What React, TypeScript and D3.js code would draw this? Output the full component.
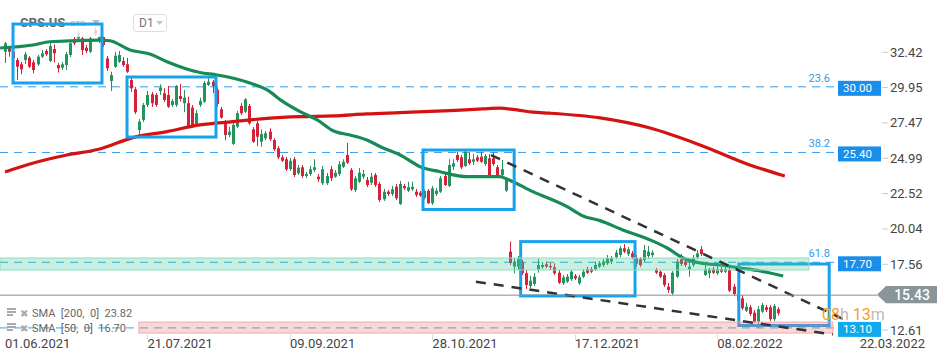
import React from 'react';
import * as d3 from 'd3';

// ---------- DATA ----------
// daily candles [open, high, low, close], first bar = 01.06.2021
const ohlc: [number, number, number, number][] = [
  [32.46,33.14,31.67,33.05],[32.74,32.86,32.11,32.46],[32.44,32.55,31.90,32.02],[31.88,32.02,30.48,31.41],
  [31.58,31.74,30.88,31.23],[31.88,32.44,31.60,32.28],[32.04,32.16,31.32,31.41],[31.72,31.88,30.95,31.18],
  [31.58,32.23,31.46,32.11],[32.11,32.58,32.02,32.35],[32.51,32.65,32.16,32.28],[31.81,33.05,31.74,32.86],
  [32.65,32.98,31.72,32.35],[31.53,31.67,31.00,31.30],[31.34,31.74,31.18,31.58],[31.53,32.44,31.18,32.28],
  [32.23,33.21,32.09,33.05],[33.28,33.49,32.93,33.05],[33.40,33.98,33.28,33.75],[33.40,33.56,32.23,32.58],
  [32.74,32.93,32.37,32.51],[32.46,33.56,32.37,33.40],[33.98,34.21,33.56,33.68],[33.28,33.70,33.07,33.51],
  [33.49,33.60,32.80,32.93],[31.99,32.16,31.11,31.30],[30.41,31.06,29.71,30.83],[31.41,32.46,31.32,32.18],
  [31.76,32.51,31.67,32.23],[31.81,32.09,31.39,31.53],[31.58,32.02,30.97,31.06],[30.48,30.71,29.64,29.90],
  [29.83,29.99,28.10,28.22],[26.97,27.74,26.62,27.56],[27.68,28.87,27.54,28.73],[28.73,29.71,28.59,29.43],
  [29.48,29.64,28.59,28.85],[29.43,29.57,28.59,28.73],[29.71,30.18,29.43,29.94],[29.55,29.90,28.94,29.08],
  [29.43,30.06,28.52,28.61],[28.73,29.15,28.59,29.01],[28.73,30.13,28.59,30.06],[29.36,30.20,28.96,29.15],
  [28.85,29.78,28.22,29.24],[28.85,29.31,27.11,27.21],[28.54,28.73,27.18,27.33],[27.33,28.38,27.18,28.15],
  [28.73,29.24,28.59,29.01],[28.96,30.41,28.87,30.27],[30.13,30.62,30.06,30.36],[30.36,30.48,29.55,30.06],
  [29.80,29.95,28.60,28.80],[28.43,28.59,27.76,27.84],[27.44,27.68,26.27,26.62],[26.62,27.21,26.48,26.86],
  [26.00,27.46,25.92,27.33],[27.21,28.31,27.11,28.15],[28.66,28.85,28.03,28.15],[28.26,29.20,28.17,29.13],
  [28.66,28.80,27.33,27.44],[27.02,27.18,26.06,26.15],[27.44,27.60,25.85,26.50],[26.15,27.02,25.80,26.69],
  [26.39,26.90,26.27,26.74],[26.86,27.09,26.20,26.32],[26.27,26.41,25.50,25.62],[25.69,25.85,24.94,25.06],
  [25.06,25.22,24.73,24.82],[24.92,25.08,24.10,24.22],[24.24,25.01,24.10,24.82],[24.92,25.08,23.68,23.82],
  [23.94,24.52,23.82,24.33],[24.36,24.52,23.61,23.75],[23.75,24.03,23.61,23.89],[23.89,24.45,23.75,24.22],
  [24.17,24.92,24.03,24.36],[23.70,23.89,23.33,23.52],[23.24,24.45,23.12,24.22],[23.24,23.96,23.12,23.75],
  [24.22,24.45,23.40,23.59],[23.70,24.17,23.61,23.98],[23.89,24.80,23.75,24.57],[24.40,24.92,24.31,24.75],
  [25.22,26.08,24.59,24.68],[24.17,24.31,22.70,22.82],[22.77,23.75,22.63,23.59],[23.35,24.31,23.26,23.98],
  [23.70,24.17,23.54,23.89],[23.47,23.68,22.98,23.12],[23.28,23.96,23.12,23.70],[23.82,23.96,22.98,23.12],
  [23.19,23.33,21.93,22.07],[22.12,22.84,22.00,22.65],[22.65,22.77,22.35,22.49],[22.49,23.05,22.35,22.82],
  [23.00,23.19,22.07,22.19],[21.79,23.40,21.72,23.19],[23.05,23.19,22.77,22.89],[22.72,23.35,22.63,22.96],
  [22.82,23.35,22.70,23.00],[22.65,22.84,22.28,22.42],[22.58,22.70,22.28,22.37],[22.20,22.80,22.10,22.70],
  [22.72,22.84,21.79,21.84],[21.84,23.05,21.72,22.89],[22.49,22.91,22.35,22.72],[22.65,23.75,22.56,23.59],
  [23.75,23.89,23.05,23.12],[23.05,24.92,22.98,24.52],[24.40,24.92,24.17,24.64],[25.22,25.45,24.73,24.87],
  [25.06,25.22,24.24,24.36],[24.45,25.57,24.38,25.45],[24.92,25.38,24.52,24.64],[24.75,25.29,24.52,24.92],
  [25.06,25.22,24.73,24.82],[25.10,25.45,24.66,24.75],[24.59,25.29,24.45,25.15],[24.99,25.29,23.68,23.82],
  [24.99,25.38,24.45,24.59],[24.36,24.52,23.68,23.82],[23.82,24.87,23.70,24.22],[22.72,23.68,22.63,23.52],
  [18.45,19.15,17.51,17.65],[17.40,18.00,16.93,17.75],[17.40,18.14,17.16,17.91],[17.72,17.86,16.81,16.95],
  [16.93,17.16,15.83,16.11],[16.04,16.74,15.90,16.41],[16.18,16.95,16.04,16.69],[17.21,17.93,16.97,17.51],
  [17.37,17.72,17.23,17.51],[17.56,17.75,17.30,17.40],[17.44,17.65,17.16,17.35],[17.35,17.63,16.81,16.93],
  [16.97,17.16,16.18,16.27],[16.23,16.81,16.11,16.65],[16.34,16.88,16.25,16.69],[16.51,17.16,16.39,17.04],
  [16.74,16.88,16.46,16.58],[16.23,16.81,16.11,16.65],[16.69,17.23,16.60,17.04],[17.21,17.37,16.88,16.97],
  [17.21,17.37,16.95,17.04],[17.21,17.75,17.09,17.51],[17.40,17.79,17.30,17.63],[17.51,17.93,17.37,17.75],
  [17.63,18.22,17.51,17.98],[17.75,18.14,17.58,17.98],[18.05,18.56,17.93,18.38],[18.21,18.85,18.07,18.68],
  [18.68,18.98,18.35,18.45],[18.28,18.78,18.14,18.61],[18.33,18.49,17.93,18.05],[18.00,18.20,17.40,17.60],
  [17.91,18.07,17.37,17.51],[17.86,18.92,17.72,18.56],[18.14,18.85,17.95,18.45],[18.20,18.55,18.05,18.38],
  [17.16,17.30,16.88,16.97],[17.04,17.16,16.60,16.69],[16.81,16.95,15.97,16.11],[15.99,16.25,15.55,15.76],
  [15.53,17.09,15.41,16.97],[16.69,17.93,16.60,17.75],[17.91,18.28,17.44,17.58],[17.75,17.93,17.37,17.51],
  [17.21,17.72,16.69,17.40],[17.51,18.21,17.37,17.98],[18.05,18.56,17.93,18.33],[18.61,18.85,18.14,18.28],
  [16.81,17.58,16.74,17.21],[16.93,17.30,16.58,17.21],[17.21,17.37,16.88,16.97],[16.93,17.44,16.81,17.21],
  [17.21,17.37,16.95,17.04],[17.04,17.58,16.95,17.21],[17.16,17.30,15.62,15.71],[15.99,16.18,15.34,15.48],
  [15.01,15.55,14.92,15.48],[15.18,15.41,14.36,14.48],[14.31,14.85,14.22,14.59],[14.55,14.71,13.94,14.08],
  [14.17,14.36,13.45,13.54],[13.54,14.64,13.08,14.41],[14.24,14.85,14.15,14.71],[14.55,14.71,14.22,14.36],
  [14.55,14.71,13.59,13.71],[13.71,14.78,13.59,14.64],[14.41,14.55,13.97,14.13],
];

// SMA 50 [bar index, value]
const sma50: [number, number][] = [
  [-1.2,32.72],[6.9,32.93],[11,33.16],[23.3,33.28],[25.8,33.23],[30.7,32.58],[35.6,32.30],[39.8,31.76],
  [47.9,31.0],[52.1,30.83],[60.2,30.27],[64.4,29.78],[68.3,28.96],[72.5,28.26],[76.7,27.68],[80.6,26.92],
  [84.8,26.62],[88.9,26.27],[92.9,25.71],[97.1,25.22],[102,24.40],[106.9,24.05],[113.5,23.70],[121.6,23.70],
  [123.3,23.54],[129.7,22.65],[138.1,21.60],[142,20.95],[146.2,20.62],[151.8,19.97],[158.5,19.27],
  [162.7,18.70],[166.6,18.00],[170.8,17.65],[175.7,17.51],[180.6,17.30],[185.5,17.09],[191.2,16.74],
];
// SMA 200 [bar index, value]
const sma200: [number, number][] = [
  [0,24.03],[6.1,24.59],[15.2,25.22],[23.3,25.64],[31.4,26.44],[39.8,26.86],[47.9,27.33],[56,27.56],
  [64.4,27.79],[72.5,27.91],[80.6,27.96],[88.9,28.10],[97.1,28.19],[109.3,28.33],[117.4,28.45],
  [121.6,28.50],[125.8,28.38],[129.7,28.22],[133.9,28.15],[146.2,27.82],[158.5,27.11],[170.8,25.92],
  [183,24.52],[191.6,23.75],
];

const priceTicks = [32.42, 29.95, 27.47, 24.99, 22.52, 20.04, 17.56, 12.61];
const dateTicks: [number, string][] = [
  [0, '01.06.2021'], [35, '21.07.2021'], [70, '09.09.2021'], [105, '28.10.2021'],
  [140, '17.12.2021'], [175, '08.02.2022'], [210, '22.03.2022'],
];
const fibLevels = [
  { label: '23.6', value: 30.0, badge: '30.00' },
  { label: '38.2', value: 25.4, badge: '25.40' },
  { label: '61.8', value: 17.7, badge: '17.70' },
  { label: '', value: 13.1, badge: '13.10' },
];
// zones [fromIndex, toIndex, top, bottom]
const greenZone: [number, number, number, number] = [-1.3, 197.5, 18.0, 17.16];
const redZone: [number, number, number, number] = [32.9, 203.4, 13.51, 12.74];
// boxes [fromIndex, toIndex, top, bottom]
const boxes: [number, number, number, number][] = [
  [1.97, 23.83, 34.4, 30.27],
  [29.98, 51.84, 30.69, 26.48],
  [102.7, 125.1, 25.57, 21.40],
  [126.7, 154.8, 19.15, 15.34],
  [180.3, 202.5, 17.58, 13.27],
];
const trendLines: [number, number][][] = [
  [[119.4, 25.22], [206.4, 13.66]],
  [[115.7, 16.34], [203.4, 12.64]],
];
const lastPrice = 15.43;
const legendRows = ['SMA  [200,  0]  23.82', 'SMA  [50,  0]  16.70'];

// ---------- CHART ----------
const W = 950, H = 360;
const PLOT_RIGHT = 838;
const FONT = 'Roboto, "Noto Sans", sans-serif';
const GREEN = '#24935d';
const RED = '#d5213a';
const BLUE = '#17a2ea';

export default function App() {
  const xs = d3.scaleLinear().domain([0, 190]).range([5, 778.3]);
  const ys = d3.scaleLinear().domain([12.61, 32.42]).range([334.9, 52.3]);
  const line = d3.line<[number, number]>().x(d => xs(d[0])).y(d => ys(d[1])).curve(d3.curveMonotoneX);
  const x0 = 0;

  return (
    <div style={{ position: 'absolute', left: 0, top: 0 }}>
      <svg width={W} height={H} style={{ display: 'block', fontFamily: FONT }}>
        <rect width={W} height={H} fill="#fff" />

        {/* fib dashed lines */}
        {fibLevels.map((f, i) => (
          <line key={i} x1={x0} x2={PLOT_RIGHT} y1={ys(f.value)} y2={ys(f.value)}
            stroke={i === 3 ? '#2aa9ea' : '#2f9cf0'} strokeWidth={1} strokeDasharray="8 6" />
        ))}

        {/* candles */}
        {ohlc.map((c, i) => {
          const [o, h, l, cl] = c;
          const up = cl >= o;
          const col = up ? GREEN : RED;
          const cx = Math.round(xs(i));
          const top = ys(Math.max(o, cl));
          const bot = ys(Math.min(o, cl));
          return (
            <g key={i}>
              <line x1={cx + 0.5} x2={cx + 0.5} y1={ys(h)} y2={ys(l)} stroke={col} strokeWidth={1} />
              <rect x={cx - 1} y={top} width={3} height={Math.max(1, bot - top)} fill={col} />
            </g>
          );
        })}

        {/* SMA lines */}
        <path d={line(sma200) || ''} fill="none" stroke="#d31212" strokeWidth={3.2} strokeLinejoin="round" />
        <path d={line(sma50) || ''} fill="none" stroke="#178b56" strokeWidth={3.2} strokeLinejoin="round" />

        {/* header */}
        <rect x={0} y={0} width={175} height={37} fill="#fff" opacity={0.8} />
        <text x={20} y={27} fontSize={13} fontWeight={700} fill="#666">CPS.US</text>
        <text x={70} y={26} fontSize={8} fill="#aaa">OTC</text>
        <path d="M92,20 L100,20 L96,25 Z" fill="#bbb" />
        <rect x={133.5} y={14.5} width={33} height={17} rx={3} fill="#fff" stroke="#ddd" />
        <text x={139} y={27} fontSize={12} fill="#777">D1</text>
        <path d="M156,21 L163,21 L159.5,25 Z" fill="#c4c4c4" />

        {/* boxes */}
        {boxes.map((b, i) => (
          <rect key={i} x={xs(b[0])} y={ys(b[2])} width={xs(b[1]) - xs(b[0])} height={ys(b[3]) - ys(b[2])}
            fill="none" stroke={BLUE} strokeWidth={3} />
        ))}

        {/* zones */}
        <rect x={Math.max(0, xs(greenZone[0]))} y={ys(greenZone[2])} width={xs(greenZone[1]) - Math.max(0, xs(greenZone[0]))}
          height={ys(greenZone[3]) - ys(greenZone[2])} fill="rgba(72,205,155,0.3)" stroke="#8fdcbf" strokeWidth={1} />
        <rect x={xs(redZone[0])} y={ys(redZone[2])} width={xs(redZone[1]) - xs(redZone[0])}
          height={ys(redZone[3]) - ys(redZone[2])} fill="rgba(238,122,122,0.3)" stroke="#f1a9a9" strokeWidth={1} />

        {/* trend lines */}
        {trendLines.map((t, i) => (
          <line key={i} x1={xs(t[0][0])} y1={ys(t[0][1])} x2={xs(t[1][0])} y2={ys(t[1][1])}
            stroke="#333" strokeWidth={2.5} strokeDasharray="10 8" />
        ))}

        {/* last price line */}
        <line x1={0} x2={877} y1={ys(lastPrice) + 0.5} y2={ys(lastPrice) + 0.5} stroke="#8c8c8c" strokeWidth={1} />

        {/* fib labels and badges */}
        {fibLevels.map((f, i) => {
          const y = ys(f.value);
          return (
            <g key={i}>
              {f.label && (
                <text x={830} y={y - 5} fontSize={11} fill="#2b9cf0" textAnchor="end">{f.label}</text>
              )}
              <rect x={838} y={y - 6} width={43} height={15} fill={i === 3 ? '#12a9ec' : '#1a8ee9'} />
              <text x={843} y={y + 5.5} fontSize={11.5} fill="#fff">{f.badge}</text>
            </g>
          );
        })}

        {/* price axis */}
        {priceTicks.map((t, i) => {
          const y = Math.min(ys(t), 330);
          return (
            <g key={i}>
              <line x1={882} x2={888} y1={y} y2={y} stroke="#ccc" strokeWidth={1} />
              <text x={890} y={y + 4.5} fontSize={13} fill="#444">{t.toFixed(2)}</text>
            </g>
          );
        })}

        {/* last price badge */}
        <path d={`M877,${ys(lastPrice)} L886,${ys(lastPrice) - 8.7} L937,${ys(lastPrice) - 8.7} L937,${ys(lastPrice) + 8.7} L886,${ys(lastPrice) + 8.7} Z`}
          fill="#8a9599" />
        <text x={912} y={ys(lastPrice) + 5.5} fontSize={14} fontWeight={500} fill="#fff" textAnchor="middle">{lastPrice.toFixed(2)}</text>

        {/* countdown */}
        <text x={822} y={320} fontSize={16}>
          <tspan fill="#f5a01e">08</tspan><tspan fill="#bbb">h </tspan><tspan fill="#f5a01e">13</tspan><tspan fill="#bbb">m</tspan>
        </text>

        {/* date axis */}
        {dateTicks.map(([idx, lab], i) => (
          <g key={i}>
            {i > 0 && i < dateTicks.length - 1 && (
              <line x1={Math.round(xs(idx)) + 0.5} x2={Math.round(xs(idx)) + 0.5} y1={334} y2={340} stroke="#ddd" />
            )}
            <text x={xs(idx)} y={348} fontSize={13} fill="#444">{lab}</text>
          </g>
        ))}

        {/* legend */}
        {legendRows.map((r, i) => {
          const y = 313 + i * 15;
          return (
            <g key={i}>
              <rect x={7} y={y - 5} width={9} height={2} fill="#aaa" />
              <rect x={7} y={y - 2} width={9} height={2} fill="#aaa" />
              <rect x={7} y={y + 1} width={6} height={2} fill="#aaa" />
              <text x={20} y={y + 3.5} fontSize={10} fill="#aaa">✖</text>
              <text x={32} y={y + 4} fontSize={11} fill="#666" style={{ whiteSpace: 'pre' }}>{r}</text>
            </g>
          );
        })}
      </svg>
    </div>
  );
}
